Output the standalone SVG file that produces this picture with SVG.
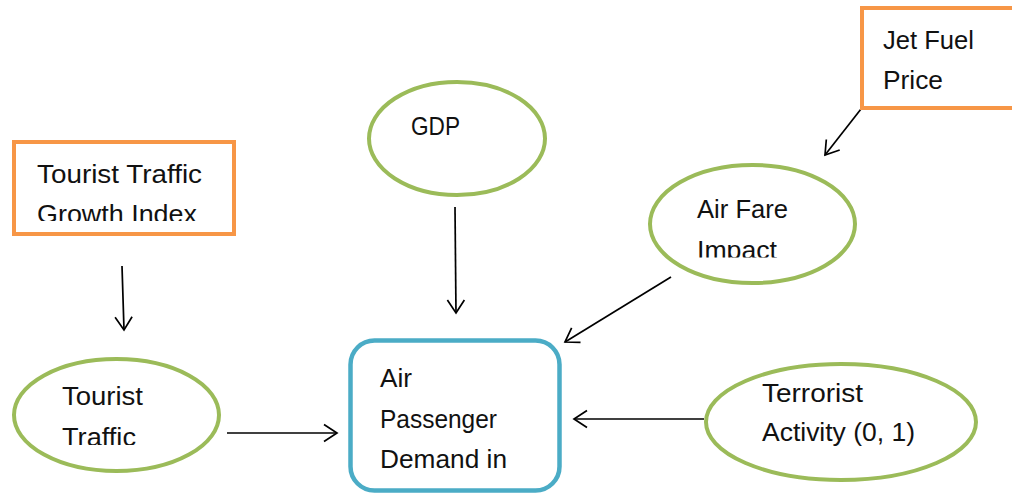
<svg xmlns="http://www.w3.org/2000/svg" width="1012" height="493" viewBox="0 0 1012 493">
<style>
.ell{fill:#fff;stroke:#9BBB59;stroke-width:4}
.box{fill:#fff;stroke:#F79646;stroke-width:4}
.main{fill:#fff;stroke:#4BACC6;stroke-width:4.5}
.t{font-family:"Liberation Sans",Arial,sans-serif;font-size:26px;fill:#111}
.c{stroke:#000;stroke-width:1.7;fill:none;marker-end:url(#ah)}
</style>
<defs>
<marker id="ah" markerWidth="20" markerHeight="20" refX="14" refY="10" orient="auto" markerUnits="userSpaceOnUse">
<path d="M1,1.5 L14,10 L1,18.5" fill="none" stroke="#000" stroke-width="1.7"/>
</marker>
<clipPath id="c1"><rect x="16" y="144" width="216" height="77"/></clipPath>
<clipPath id="c2"><rect x="650" y="160" width="210" height="97.5"/></clipPath>
<clipPath id="c3"><rect x="15" y="360" width="205" height="85"/></clipPath>
</defs>
<rect width="1012" height="493" fill="#fff"/>
<g id="connectors">
<line class="c" x1="455" y1="207" x2="456" y2="313"/>
<line class="c" x1="861" y1="109" x2="825" y2="155"/>
<line class="c" x1="671" y1="277" x2="565" y2="342"/>
<line class="c" x1="122" y1="266" x2="124" y2="330"/>
<line class="c" x1="227" y1="433" x2="337" y2="433"/>
<line class="c" x1="704" y1="419" x2="574" y2="419"/>
</g>
<g id="jet-fuel-price">
<rect class="box" x="862" y="8" width="160" height="100"/>
<text class="t" x="883" y="49" textLength="91" lengthAdjust="spacingAndGlyphs">Jet Fuel</text>
<text class="t" x="883" y="89" textLength="60" lengthAdjust="spacingAndGlyphs">Price</text>
</g>
<g id="tourist-growth">
<rect class="box" x="14" y="142" width="220" height="92"/>
<g clip-path="url(#c1)">
<text class="t" x="37" y="183" textLength="165" lengthAdjust="spacingAndGlyphs">Tourist Traffic</text>
<text class="t" x="37" y="223" textLength="160" lengthAdjust="spacingAndGlyphs">Growth Index</text>
</g>
</g>
<g id="gdp">
<ellipse class="ell" cx="457" cy="138.5" rx="88" ry="56.5"/>
<text class="t" x="411" y="135" textLength="49" lengthAdjust="spacingAndGlyphs">GDP</text>
</g>
<g id="air-fare-impact">
<ellipse class="ell" cx="752.5" cy="224" rx="102.5" ry="59"/>
<g clip-path="url(#c2)">
<text class="t" x="697" y="218" textLength="91" lengthAdjust="spacingAndGlyphs">Air Fare</text>
<text class="t" x="697" y="259" textLength="80" lengthAdjust="spacingAndGlyphs">Impact</text>
</g>
</g>
<g id="tourist-traffic">
<ellipse class="ell" cx="116.5" cy="415" rx="102.5" ry="56"/>
<g clip-path="url(#c3)">
<text class="t" x="62" y="405" textLength="81" lengthAdjust="spacingAndGlyphs">Tourist</text>
<text class="t" x="62" y="446" textLength="74" lengthAdjust="spacingAndGlyphs">Traffic</text>
</g>
</g>
<g id="terrorist-activity">
<ellipse class="ell" cx="841" cy="422" rx="135" ry="58"/>
<text class="t" x="762" y="402" textLength="101" lengthAdjust="spacingAndGlyphs">Terrorist</text>
<text class="t" x="762" y="441" textLength="153" lengthAdjust="spacingAndGlyphs">Activity (0, 1)</text>
</g>
<g id="air-passenger-demand">
<rect class="main" x="350.5" y="340.5" width="209" height="150" rx="24" ry="24"/>
<text class="t" x="380" y="387" textLength="32" lengthAdjust="spacingAndGlyphs">Air</text>
<text class="t" x="380" y="428" textLength="117" lengthAdjust="spacingAndGlyphs">Passenger</text>
<text class="t" x="380" y="468" textLength="127" lengthAdjust="spacingAndGlyphs">Demand in</text>
</g>
</svg>
